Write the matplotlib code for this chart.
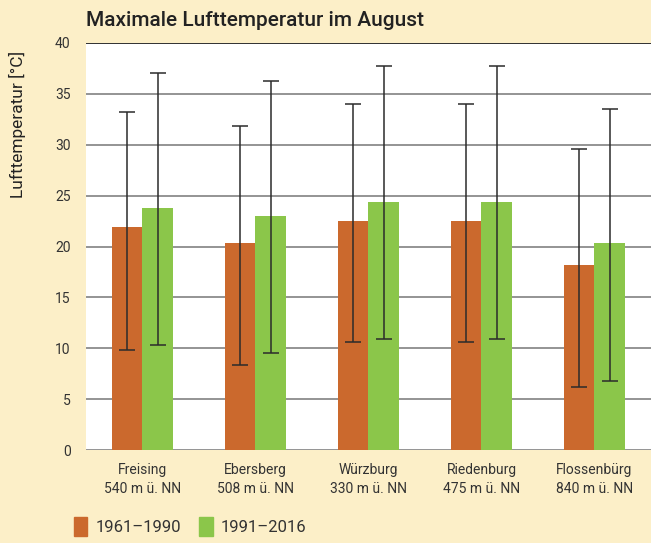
import numpy as np
import matplotlib
matplotlib.use("Agg")
import matplotlib.pyplot as plt
from matplotlib.patches import Patch

stations = ["Freising\n540 m ü. NN", "Ebersberg\n508 m ü. NN", "Würzburg\n330 m ü. NN",
            "Riedenburg\n475 m ü. NN", "Flossenbürg\n840 m ü. NN"]

# mean values
old_mean = [21.9, 20.35, 22.5, 22.5, 18.2]
new_mean = [23.8, 23.0, 24.4, 24.4, 20.35]
# error bar ends (min / max)
old_min = [9.8, 8.4, 10.65, 10.65, 6.2]
old_max = [33.2, 31.8, 34.0, 34.0, 29.6]
new_min = [10.3, 9.5, 10.95, 10.95, 6.8]
new_max = [37.0, 36.3, 37.7, 37.7, 33.5]

bg = "#fcefc8"
c_old = "#cb692d"
c_new = "#8bc64a"
txt = "#333333"

plt.rcParams['font.family'] = ['Roboto', 'DejaVu Sans']

fig = plt.figure(figsize=(6.51, 5.43), dpi=100, facecolor=bg)
ax = fig.add_axes([0.132, 0.171, 0.868, 0.750])
ax.set_facecolor("white")

x = np.arange(len(stations))
w = 0.27
old_mean = np.array(old_mean); new_mean = np.array(new_mean)
err_old = [old_mean - np.array(old_min), np.array(old_max) - old_mean]
err_new = [new_mean - np.array(new_min), np.array(new_max) - new_mean]

ax.set_axisbelow(True)
ax.yaxis.grid(True, color="#777777", linewidth=1.1)
ax.bar(x - w/2, old_mean, w, color=c_old, zorder=2)
ax.bar(x + w/2, new_mean, w, color=c_new, zorder=2)
ax.errorbar(x - w/2, old_mean, yerr=err_old, fmt="none", ecolor="#2b2b2b",
            elinewidth=1.1, capsize=5.5, capthick=1.1, zorder=3)
ax.errorbar(x + w/2, new_mean, yerr=err_new, fmt="none", ecolor="#2b2b2b",
            elinewidth=1.1, capsize=5.5, capthick=1.1, zorder=3)

ax.set_xlim(-0.5, 4.5)
ax.set_ylim(0, 40)
ax.set_yticks(range(0, 41, 5))
ax.set_xticks(x)
ax.set_xticklabels(stations, fontsize=10, color=txt, linespacing=1.45)
ax.tick_params(length=0, labelsize=10, labelcolor=txt)
ax.tick_params(axis="x", pad=9)
ax.tick_params(axis="y", pad=11)
for s in ax.spines.values():
    s.set_visible(False)
ax.axhline(40, color="#222222", linewidth=1.2, zorder=1)

fig.text(0.132, 0.962, "Maximale Lufttemperatur im August", fontsize=15,
         fontweight="medium", color="#222222", va="center", ha="left")
fig.text(0.027, 0.77, "Lufttemperatur [°C]", rotation=90, fontsize=12.5,
         color="#222222", va="center", ha="center")

handles = [Patch(color=c_old, label="1961–1990"), Patch(color=c_new, label="1991–2016")]
fig.legend(handles=handles, loc="center left", bbox_to_anchor=(0.09, 0.03), ncol=2,
           frameon=False, fontsize=12, handlelength=0.8, handleheight=1.35,
           handletextpad=0.5, columnspacing=1.1, labelcolor=txt)

fig.savefig("out.png", dpi=100, facecolor=bg)
